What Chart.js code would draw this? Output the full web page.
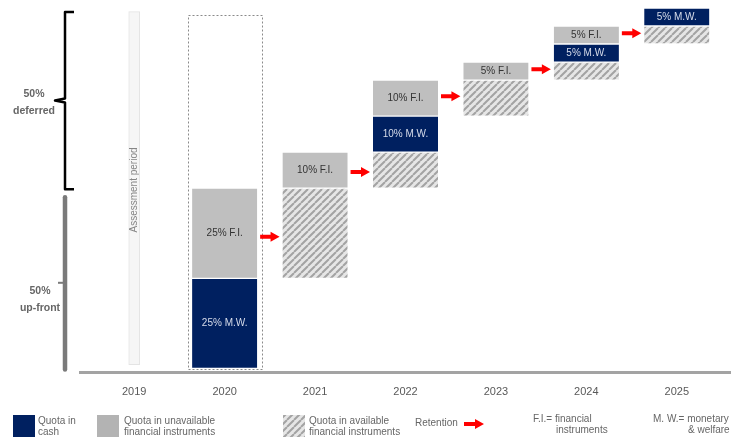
<!DOCTYPE html>
<html><head><meta charset="utf-8">
<script src="https://cdn.jsdelivr.net/npm/chart.js@4.4.1/dist/chart.umd.min.js"></script>
<style>html,body{margin:0;padding:0;background:#fff;overflow:hidden}#wrap{width:731px;height:441px}</style>
</head><body><div id="wrap"><canvas id="c" width="731" height="441"></canvas></div>
<script>
// ---- data ----
const categories = ['2019','2020','2021','2022','2023','2024','2025'];
const assessmentPeriod = [[1,99],null,null,null,null,null,null];
const quotaCash = [null,[0,25],null,[60,70],null,[85,90],[95,100]];
const quotaUnavailableFI = [null,[25,50],[50,60],[70,80],[80,85],[90,95],null];
const quotaAvailableFI = [null,null,[25,50],[50,60],[70,80],[80,85],[90,95]];
const retentionFrom = ['2020','2021','2022','2023','2024'];
const retentionLevel = [36.5,54.5,75.5,83,93];
const deferredFrameYear = '2020';
const deferredFrameRange = [0,98];
const splitDeferred = [50,100];
const splitUpFront = [0,50];

const NAVY = '#002060', GREY = '#bfbfbf', RED = '#ff0000';
const FONT = '"Liberation Sans", Arial, sans-serif';

function hatchPattern(){
  const s = 7, c = document.createElement('canvas'); c.width = c.height = s;
  const x = c.getContext('2d');
  x.fillStyle = '#e6e6e6'; x.fillRect(0,0,s,s);
  x.strokeStyle = '#a3a3a3'; x.lineWidth = 2;
  x.beginPath();
  for (const o of [-s,0,s]) { x.moveTo(o,s); x.lineTo(o+s,0); }
  x.stroke();
  return x.createPattern(c,'repeat');
}
const HATCH = hatchPattern();

function arrow(ctx, x1, x2, y){
  const head = Math.min(9, (x2-x1)*0.5);
  ctx.save();
  ctx.fillStyle = RED;
  ctx.beginPath();
  ctx.moveTo(x1, y-2);
  ctx.lineTo(x2-head, y-2);
  ctx.lineTo(x2-head, y-5);
  ctx.lineTo(x2, y);
  ctx.lineTo(x2-head, y+5);
  ctx.lineTo(x2-head, y+2);
  ctx.lineTo(x1, y+2);
  ctx.closePath();
  ctx.fill();
  ctx.restore();
}

const decor = {
  id: 'decor',
  beforeDatasetsDraw(chart){
    const ctx = chart.ctx, xs = chart.scales.x, ys = chart.scales.y;
    ctx.save();
    ctx.strokeStyle = '#a3a3a3'; ctx.lineWidth = 3;
    ctx.beginPath(); ctx.moveTo(79, chart.chartArea.bottom + 0.5); ctx.lineTo(731, chart.chartArea.bottom + 0.5); ctx.stroke();
    const cx = xs.getPixelForValue(categories.indexOf(deferredFrameYear));
    const top = ys.getPixelForValue(deferredFrameRange[1]);
    const bot = ys.getPixelForValue(deferredFrameRange[0]) + 0.5;
    ctx.strokeStyle = '#8a8a8a'; ctx.lineWidth = 1; ctx.setLineDash([2,2]);
    ctx.strokeRect(Math.round(cx-37)+0.5, Math.round(top)+0.5, 74, Math.round(bot-top));
    ctx.restore();
  },
  afterDatasetsDraw(chart){
    const ctx = chart.ctx, xs = chart.scales.x, ys = chart.scales.y;
    ctx.save();
    ctx.font = '10px ' + FONT; ctx.textAlign = 'center'; ctx.textBaseline = 'middle';
    chart.data.datasets.forEach((ds, di) => {
      if (!ds.labelSuffix) return;
      const meta = chart.getDatasetMeta(di);
      meta.data.forEach((el, i) => {
        const v = ds.data[i]; if (!v) return;
        ctx.fillStyle = ds.labelColor;
        ctx.fillText((v[1]-v[0]) + '% ' + ds.labelSuffix, el.x, (el.y + el.base)/2);
      });
    });
    const ax = xs.getPixelForValue(0);
    ctx.save();
    ctx.translate(ax + 0.5, ys.getPixelForValue(49.5)); ctx.rotate(-Math.PI/2);
    ctx.fillStyle = '#858585'; ctx.font = '10px ' + FONT;
    ctx.fillText('Assessment period', 0, 0);
    ctx.restore();
    retentionFrom.forEach((yr, k) => {
      const i = categories.indexOf(yr);
      const x1 = xs.getPixelForValue(i) + 32.5 + 3;
      const x2 = xs.getPixelForValue(i+1) - 32.5 - 3;
      arrow(ctx, x1, x2, ys.getPixelForValue(retentionLevel[k]));
    });
    const dTop = ys.getPixelForValue(splitDeferred[1]) + 4, dBot = ys.getPixelForValue(splitDeferred[0]) + 1;
    const dMid = (dTop + dBot)/2;
    ctx.strokeStyle = '#000'; ctx.lineWidth = 2.5; ctx.lineJoin = 'round';
    ctx.beginPath();
    ctx.moveTo(74, dTop); ctx.lineTo(65, dTop); ctx.lineTo(65, dMid-2);
    ctx.lineTo(55, dMid); ctx.lineTo(65, dMid+2); ctx.lineTo(65, dBot); ctx.lineTo(74, dBot);
    ctx.stroke();
    const uTop = ys.getPixelForValue(splitUpFront[1]) + 9, uBot = ys.getPixelForValue(splitUpFront[0]) + 1;
    ctx.strokeStyle = '#7a7a7a'; ctx.lineWidth = 4.5; ctx.lineCap = 'round';
    ctx.beginPath(); ctx.moveTo(65, uTop); ctx.lineTo(65, uBot); ctx.stroke();
    ctx.lineWidth = 2; ctx.lineCap = 'butt';
    ctx.beginPath(); ctx.moveTo(65, (uTop+uBot)/2 - 0.5); ctx.lineTo(58, (uTop+uBot)/2 - 0.5); ctx.stroke();
    ctx.fillStyle = '#666'; ctx.font = 'bold 10.5px ' + FONT; ctx.textAlign = 'center';
    ctx.fillText((splitDeferred[1]-splitDeferred[0]) + '%', 34, dMid - 6);
    ctx.fillText('deferred', 34, dMid + 11);
    ctx.fillText((splitUpFront[1]-splitUpFront[0]) + '%', 40, (uTop+uBot)/2 + 8);
    ctx.fillText('up-front', 40, (uTop+uBot)/2 + 25);
    ctx.textAlign = 'left'; ctx.textBaseline = 'middle';
    ctx.font = '10px ' + FONT;
    ctx.fillStyle = NAVY; ctx.fillRect(13, 415, 22, 22);
    ctx.fillStyle = '#b3b3b3'; ctx.fillRect(97, 415, 22, 22);
    ctx.fillStyle = HATCH; ctx.fillRect(283, 415, 22, 22);
    ctx.fillStyle = '#666';
    ctx.fillText('Quota in', 38, 421); ctx.fillText('cash', 38, 432);
    ctx.fillText('Quota in unavailable', 124, 421); ctx.fillText('financial instruments', 124, 432);
    ctx.fillText('Quota in available', 309, 421); ctx.fillText('financial instruments', 309, 432);
    ctx.fillText('Retention', 415, 423);
    arrow(ctx, 464, 484, 424);
    ctx.fillText('F.I.= financial', 533, 419); ctx.fillText('instruments', 556, 430);
    ctx.fillText('M. W.= monetary', 653, 419); ctx.fillText('& welfare', 688, 430);
    ctx.restore();
  }
};

const common = { grouped: false, borderSkipped: false, borderColor: '#ffffff', borderWidth: {top:1, bottom:1, left:0, right:0}, barThickness: 65 };

new Chart(document.getElementById('c'), {
  type: 'bar',
  data: {
    labels: categories,
    datasets: [
      { label: 'Assessment period', data: assessmentPeriod, grouped: false, borderSkipped: false, backgroundColor: '#f6f6f6', borderColor: '#e4e4e4', borderWidth: 1, barThickness: 11 },
      Object.assign({ label: 'Quota in cash', data: quotaCash, backgroundColor: NAVY, labelSuffix: 'M.W.', labelColor: '#d6dcea' }, common),
      Object.assign({ label: 'Quota in unavailable financial instruments', data: quotaUnavailableFI, backgroundColor: GREY, labelSuffix: 'F.I.', labelColor: '#333333' }, common),
      Object.assign({ label: 'Quota in available financial instruments', data: quotaAvailableFI, backgroundColor: HATCH }, common)
    ]
  },
  options: {
    responsive: false, animation: false,
    layout: { padding: { left: 89, right: 9, top: 8, bottom: 39 } },
    plugins: { legend: { display: false }, tooltip: { enabled: false } },
    scales: {
      x: {
        grid: { display: false, drawTicks: false }, border: { display: false },
        ticks: { color: '#595959', font: { family: FONT, size: 11 }, padding: 13 },
        afterFit: s => { s.height = 30; }
      },
      y: { display: false, min: -1, max: 100 }
    }
  },
  plugins: [decor]
});
</script>
</body></html>
